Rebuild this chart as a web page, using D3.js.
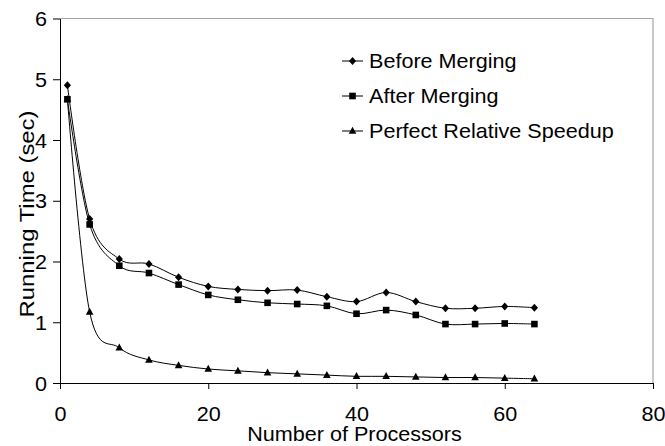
<!DOCTYPE html>
<html>
<head>
<meta charset="utf-8">
<script src="https://cdn.jsdelivr.net/npm/d3@7"></script>
<style>
  body { margin: 0; background: #fff; }
  svg { display: block; font-family: "Liberation Sans", Arial, sans-serif; }
</style>
</head>
<body>
<svg id="chart" width="665" height="446"></svg>
<script>
const processors = [1, 4, 8, 12, 16, 20, 24, 28, 32, 36, 40, 44, 48, 52, 56, 60, 64];
const beforeMerging = [4.90, 2.70, 2.04, 1.96, 1.74, 1.59, 1.54, 1.52, 1.53, 1.42, 1.34, 1.49, 1.34, 1.23, 1.23, 1.26, 1.24];
const afterMerging  = [4.67, 2.61, 1.93, 1.81, 1.62, 1.45, 1.37, 1.32, 1.30, 1.27, 1.14, 1.20, 1.12, 0.97, 0.97, 0.98, 0.97];
const perfectSpeedup = [4.67, 1.17, 0.58, 0.38, 0.29, 0.23, 0.20, 0.17, 0.15, 0.13, 0.11, 0.11, 0.10, 0.09, 0.09, 0.08, 0.07];
const seriesNames = ["Before Merging", "After Merging", "Perfect Relative Speedup"];
const seriesMarkers = ["diamond", "square", "triangle"];
const xTicks = [0, 20, 40, 60, 80];
const yTicks = [0, 1, 2, 3, 4, 5, 6];
const xTitle = "Number of Processors";
const yTitle = "Running Time (sec)";

const series = [beforeMerging, afterMerging, perfectSpeedup].map((vals, i) => ({
  name: seriesNames[i], marker: seriesMarkers[i],
  points: processors.map((p, j) => ({ x: p, y: vals[j] }))
}));

const svg = d3.select("#chart");
const plotLeft = 60, plotRight = 653, plotTop = 18.5, plotBottom = 383;
const x = d3.scaleLinear().domain([0, 80]).range([plotLeft, plotRight]);
const y = d3.scaleLinear().domain([0, 6]).range([plotBottom, plotTop]);
const FS = 20, SX = 1.08;

function markerPath(type, cx, cy) {
  const p = d3.path();
  if (type === "diamond") {
    p.moveTo(cx, cy - 4); p.lineTo(cx + 3.6, cy); p.lineTo(cx, cy + 4); p.lineTo(cx - 3.6, cy); p.closePath();
  } else if (type === "square") {
    p.rect(cx - 3.3, cy - 3.3, 6.6, 6.6);
  } else {
    p.moveTo(cx, cy - 4.2); p.lineTo(cx + 3.8, cy + 2.8); p.lineTo(cx - 3.8, cy + 2.8); p.closePath();
  }
  return p.toString();
}

// plot frame (grey top/right)
svg.append("path")
  .attr("d", `M${x(0)},${y(6)}H${x(80)}V${y(0)}`)
  .attr("fill", "none").attr("stroke", "#a6a6a6").attr("stroke-width", 1.2);

// axes
const xAxis = svg.append("g").attr("transform", `translate(0,${plotBottom})`)
  .call(d3.axisBottom(x).tickValues(xTicks).tickSize(6).tickSizeOuter(0).tickFormat(d3.format("d")));
xAxis.selectAll("text")
  .attr("y", 0).attr("dy", 0)
  .attr("transform", `translate(0,38) scale(${SX},1)`)
  .attr("font-size", FS).attr("fill", "#000")
  .style("font-family", "Liberation Sans, Arial, sans-serif");

const yAxis = svg.append("g").attr("transform", `translate(${plotLeft},0)`)
  .call(d3.axisLeft(y).tickValues(yTicks).tickSize(7).tickSizeOuter(0).tickFormat(d3.format("d")));
yAxis.selectAll("text")
  .attr("x", 0).attr("dy", 0)
  .attr("transform", `translate(-13,7) scale(${SX},1)`)
  .attr("font-size", FS).attr("fill", "#000")
  .style("font-family", "Liberation Sans, Arial, sans-serif");
svg.selectAll(".domain, .tick line").attr("stroke", "#000").attr("stroke-width", 1);

// titles
svg.append("text")
  .attr("transform", `translate(${(plotLeft + plotRight) / 2 - 2},441) scale(${SX},1)`)
  .attr("text-anchor", "middle").attr("font-size", FS).text(xTitle);
svg.append("text")
  .attr("transform", `translate(34,214) rotate(-90)`)
  .attr("text-anchor", "middle").attr("font-size", FS)
  .attr("textLength", 207).attr("lengthAdjust", "spacingAndGlyphs")
  .text(yTitle);

// lines
const line = d3.line().x(d => x(d.x)).y(d => y(d.y)).curve(d3.curveCardinal.tension(0));
const g = svg.append("g");
series.forEach(s => {
  g.append("path").attr("d", line(s.points))
    .attr("fill", "none").attr("stroke", "#000").attr("stroke-width", 1);
  g.selectAll(null).data(s.points).enter().append("path")
    .attr("d", d => markerPath(s.marker, x(d.x), y(d.y)))
    .attr("fill", "#000");
});

// legend
const lg = svg.append("g");
const legX0 = 342, legX1 = 363, legTextX = 369;
const legRows = d3.scalePoint().domain(seriesNames).range([61, 131]);
series.forEach(s => {
  const ly = legRows(s.name);
  lg.append("line").attr("x1", legX0).attr("x2", legX1).attr("y1", ly).attr("y2", ly)
    .attr("stroke", "#000").attr("stroke-width", 1);
  lg.append("path").attr("d", markerPath(s.marker, (legX0 + legX1) / 2, ly)).attr("fill", "#000");
  lg.append("text")
    .attr("transform", `translate(${legTextX},${ly + 7}) scale(${SX},1)`)
    .attr("font-size", FS).text(s.name);
});
</script>
</body>
</html>
